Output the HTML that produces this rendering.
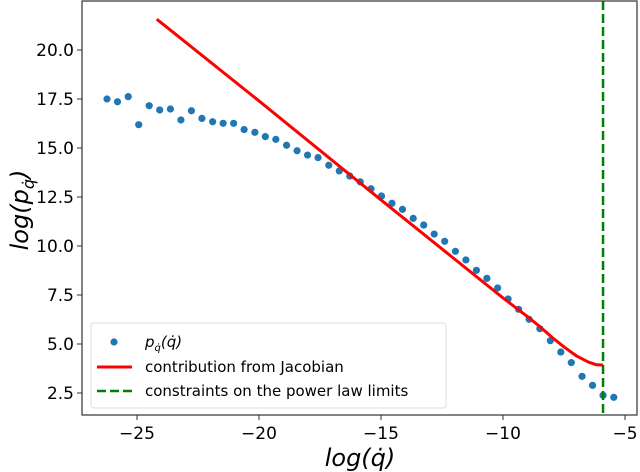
<!DOCTYPE html>
<html><head><meta charset="utf-8"><style>
html,body{margin:0;padding:0;background:#fff;}
svg{display:block;font-family:"DejaVu Sans","Liberation Sans",sans-serif;}
</style></head><body>
<svg id="chart" width="640" height="472" viewBox="0 0 640 472">
<g id="plot"></g>
</svg>
<script>
const dotX=[-26.23,-25.80,-25.36,-24.93,-24.50,-24.07,-23.63,-23.20,-22.77,-22.34,-21.90,-21.47,-21.04,-20.61,-20.17,-19.74,-19.31,-18.87,-18.44,-18.01,-17.58,-17.14,-16.71,-16.28,-15.85,-15.41,-14.98,-14.55,-14.12,-13.68,-13.25,-12.82,-12.39,-11.95,-11.52,-11.09,-10.66,-10.22,-9.79,-9.36,-8.93,-8.49,-8.06,-7.63,-7.20,-6.76,-6.33,-5.90,-5.46];
const dotY=[17.5,17.36,17.62,16.19,17.16,16.94,16.99,16.43,16.90,16.51,16.34,16.26,16.26,15.94,15.80,15.58,15.44,15.14,14.86,14.64,14.51,14.12,13.83,13.57,13.27,12.92,12.55,12.18,11.87,11.41,11.07,10.61,10.24,9.73,9.29,8.76,8.35,7.86,7.30,6.77,6.26,5.78,5.17,4.59,4.05,3.35,2.89,2.38,2.28];
const lineX=[-24.19,-20,-15,-12,-10,-9,-8.5,-8,-7.5,-7,-6.5,-6.2,-5.9];
const lineY=[21.57,17.4,12.35,9.35,7.35,6.4,5.9,5.35,4.85,4.4,4.08,3.95,3.92];
const limitX=[-5.9];
const xTicks=[-25,-20,-15,-10,-5];
const yTicks=[2.5,5.0,7.5,10.0,12.5,15.0,17.5,20.0];
const L=82,R=637,T=1,B=415;
function sx(v){return 381+(v+15)*24.4;}
function sy(v){return 50+(20-v)*19.6;}
const NS="http://www.w3.org/2000/svg";
const g=document.getElementById('plot');
function mk(tag,attrs,parent){const e=document.createElementNS(NS,tag);for(const k in attrs)e.setAttribute(k,attrs[k]);(parent||g).appendChild(e);return e;}
dotX.forEach((x,i)=>{const c=mk('circle',{cx:sx(x),cy:sy(dotY[i]),r:3.6,fill:'#1f77b4'});

});
const p=mk('polyline',{points:lineX.map((x,i)=>sx(x)+','+sy(lineY[i])).join(' '),fill:'none',stroke:'#ff0000','stroke-width':3,'stroke-linejoin':'round'});


limitX.forEach(x=>{const l=mk('line',{x1:sx(x),x2:sx(x),y1:T,y2:B,stroke:'#008000','stroke-width':2.5,'stroke-dasharray':'9,4'});

});
const f=mk('rect',{x:L,y:T,width:R-L,height:B-T,fill:'none',stroke:'#333','stroke-width':1.2});


xTicks.forEach(v=>{mk('line',{x1:sx(v),x2:sx(v),y1:B,y2:B+5,stroke:'#333','stroke-width':1});
const t=mk('text',{x:sx(v),y:439,'text-anchor':'middle','font-size':17,fill:'#000'});t.textContent='\u2212'+Math.abs(v);

});
yTicks.forEach(v=>{mk('line',{x1:L-5,x2:L,y1:sy(v),y2:sy(v),stroke:'#333','stroke-width':1});
const t=mk('text',{x:L-8,y:sy(v)+6,'text-anchor':'end','font-size':17,fill:'#000'});t.textContent=v.toFixed(1);

});
</script>
<svg width="640" height="472" style="position:absolute;left:0;top:0">
<text x="360" y="466" text-anchor="middle" font-size="24" font-style="italic" font-family="DejaVu Sans,sans-serif">log(q&#775;)</text>
<text transform="translate(28,210) rotate(-90)" text-anchor="middle" font-size="24" font-style="italic" font-family="DejaVu Sans,sans-serif">log(p<tspan font-size="16" dy="6">q&#775;</tspan><tspan dy="-6">)</tspan></text>
<g font-family="DejaVu Sans,sans-serif" font-size="15">
<rect x="91" y="323" width="355" height="85" rx="3" fill="#fff" fill-opacity="0.85" stroke="#ddd"/>
<circle cx="114" cy="342" r="3.6" fill="#1f77b4"/>
<text x="145" y="347" font-style="italic">p<tspan font-size="10" dy="4">q&#775;</tspan><tspan dy="-4">(q&#775;)</tspan></text>
<line x1="97" x2="132" y1="367" y2="367" stroke="#f00" stroke-width="3"/>
<text x="145" y="372">contribution from Jacobian</text>
<line x1="97" x2="132" y1="391" y2="391" stroke="#008000" stroke-width="2.5" stroke-dasharray="9,4"/>
<text x="145" y="396">constraints on the power law limits</text>
</g>
</svg>
</body></html>
